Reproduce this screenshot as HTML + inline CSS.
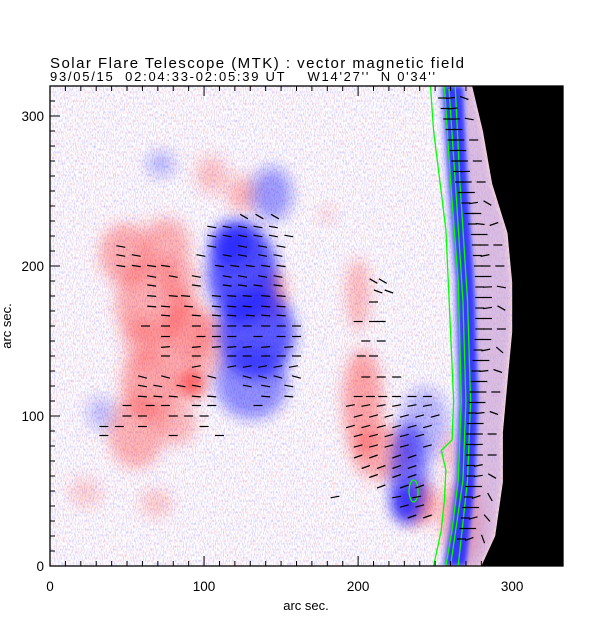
<!DOCTYPE html>
<html><head><meta charset="utf-8">
<style>
html,body{margin:0;padding:0;background:#fff;}
svg{display:block;font-family:"Liberation Sans",sans-serif;}
</style></head>
<body>
<svg id="chart" width="612" height="617" viewBox="0 0 612 617" xmlns="http://www.w3.org/2000/svg">
<defs>
  <filter id="blur6" x="-50%" y="-50%" width="200%" height="200%"><feGaussianBlur stdDeviation="7"/></filter>
  <filter id="blur3" x="-50%" y="-50%" width="200%" height="200%"><feGaussianBlur stdDeviation="2.5"/></filter>
  <filter id="noiseB" x="0" y="0" width="100%" height="100%">
    <feTurbulence type="fractalNoise" baseFrequency="0.9 0.35" numOctaves="1" seed="3"/>
    <feColorMatrix type="matrix" values="0 0 0 0 0.6  0 0 0 0 0.6  0 0 0 0 1  3.2 0 0 0 -1.45"/>
  </filter>
  <filter id="noiseR" x="0" y="0" width="100%" height="100%">
    <feTurbulence type="fractalNoise" baseFrequency="0.9 0.35" numOctaves="1" seed="11"/>
    <feColorMatrix type="matrix" values="0 0 0 0 1  0 0 0 0 0.65  0 0 0 0 0.65  3.2 0 0 0 -1.6"/>
  </filter>
  <clipPath id="plotClip"><rect x="50" y="86" width="513" height="480"/></clipPath>
</defs>
<text x="50" y="68" font-size="15" fill="#000" textLength="414" lengthAdjust="spacing">Solar Flare Telescope (MTK) : vector magnetic field</text>
<text x="50" y="81" font-size="13" fill="#000" xml:space="preserve" textLength="385" lengthAdjust="spacing">93/05/15  02:04:33-02:05:39 UT    W14'27''  N 0'34''</text>
<g id="plot" clip-path="url(#plotClip)">
  <rect x="50" y="86" width="513" height="480" fill="#fff"/>
  <rect x="50" y="86" width="513" height="480" filter="url(#noiseB)"/>
  <rect x="50" y="86" width="513" height="480" filter="url(#noiseR)"/>
  <g id="blobs"></g>
  <g id="limb"></g>
  <g id="contours"></g>
  <g id="arrows"></g>
</g>
<g id="axes"></g>
<text x="306" y="610" font-size="13" text-anchor="middle">arc sec.</text>
<text x="0" y="0" font-size="13" text-anchor="middle" transform="translate(11,326) rotate(-90)">arc sec.</text>
</svg>
<script>
// ---- data (arcsec) ----
const xTicks = [0,100,200,300];
const yTicks = [0,100,200,300];
const redX  = [49,75,66,89,92,66,56,82,105,125,144,105,200,203,216,240,69,23,180,60,85];
const redY  = [208,214,175,155,122,122,89,95,261,248,181,148,181,109,75,42,42,49,234,150,190];
const redRX = [13,12,18,12,7,15,14,10,8,8,7,9,6,10,15,9,8,8,4,10,10];
const redRY = [17,15,24,19,9,20,20,12,10,10,14,18,20,30,15,12,8,8,4,13,13];
const redI  = [0.5,0.45,0.5,0.6,1.0,0.55,0.45,0.4,0.35,0.4,0.6,0.35,0.4,0.55,0.5,0.65,0.3,0.25,0.3,0.35,0.35];
const bluX  = [125,134,131,144,72,33,233,230,243,118];
const bluY  = [195,155,122,248,268,102,62,42,95,215];
const bluRX = [17,19,18,10,7,7,9,6,12,10];
const bluRY = [28,25,20,15,7,9,28,10,20,12];
const bluI  = [0.95,0.9,0.6,0.5,0.35,0.3,0.75,0.9,0.35,0.8];
const limbY = [320,290,255,222,189,156,123,89,56,20,0];
const limbX = [274,281,287,297,300,300,297,294,294,289,280];
const contAY = [320,290,257,224,157,110,84,77,64,44,24,0];
const contAX = [247,249,253,257,260,262,261,254,257,256,254,249];
const contBY = [320,257,190,110,57,24,0];
const contBX = [256,260,265,267,265,261,257];
const contCY = [318,257,177,110,57,0];
const contCX = [259,263,268,270,268,260];
const contDY = [320,257,177,110,57,0];
const contDX = [263,266,271,273,271,265];
const loopX = 236, loopY = 50;
const arrowRowY = [233,226,220,213,207,200,193,187,180,173,167,160,153,146,140,133,126,120,113,107,100,93,87,
  190,183,176,163,150,140,126,113,107,100,93,87,80,73,66,60,53,46,40,33];
const arrowRowX = [
 [126,136,146],[105,115,125,135,145],[105,115,125,135,145,155],[46,105,125,138,150],[46,56,98,115,125,138,148],
 [46,56,66,75,110,120,130,140,150],[66,80,95,115,125,138,148],[66,95,115,125,135,148],[66,80,88,108,118,128,140,150],
 [66,75,90,108,118,128,140,150],[75,95,108,118,130,140,150],[62,75,95,108,118,128,140,150,160],[75,98,108,118,135,150,160],
 [75,95,108,118,128,140,155],[75,95,118,128,140,150,160],[95,118,128,138,148,158],[60,75,95,105,128,138,148,160],
 [60,70,85,95,128,140,155],[60,70,80,95,105,140,155],[50,65,75,95,105,135],[50,60,80,90,100],[35,45,60,100],[35,80,110],
 [210,216],[213,220],[210],[200,210,215],[205,215],[202,210],[205,215,225],[200,208,216,225,235,245],
 [195,205,215,225,235,245],[200,210,220,230,240,250],[195,205,215,225,235,245],[200,210,220,230,240],
 [200,210,220,230,245],[200,210,225,235],[205,215,225,235],[210,225,235],[215,230,240],[185,225,238],[230,240],[235,245]];
const arrowRowA = [-30,-10,-10,-10,-10,-8,-10,-8,-5,-5,-5,0,0,5,0,10,-15,-10,-5,0,0,0,0,
  -30,-20,0,0,0,0,0,0,10,15,15,15,15,20,20,20,20,10,15,20];
const limbArrowY = [312,305,298,291,284,277,270,263,256,249,242,235,228,221,214,207,200,193,186,179,172,165,158,151,144,137,130,123,116,109,102,95,88,81,74,67,60,53,46,39,32,25,18];
const limbArrowA = [20,20,10,0,0,-10,0,10,0,0,30,0,-20,0,0,40,0,0,10,0,30,0,0,0,40,0,20,0,0,0,20,0,0,10,0,40,30,0,60,0,50,0,70];
// ---- scales ----
const X0=50, X1=563, Y0=566, Y1=86, XMAX=333, YMAX=320;
const sx = v => X0 + v*(X1-X0)/XMAX;
const sy = v => Y0 - v*(Y0-Y1)/YMAX;
const NS="http://www.w3.org/2000/svg";
function mk(tag, parent){const e=document.createElementNS(NS,tag);parent.appendChild(e);return e;}
const kx=(X1-X0)/XMAX, ky=(Y0-Y1)/YMAX;
// blobs
const gB=document.getElementById('blobs');
function blob(x,y,rx,ry,i,col,name){
  const e=mk('ellipse',gB);
  
  
  e.setAttribute('cx',sx(x));e.setAttribute('cy',sy(y));
  e.setAttribute('rx',rx*kx*1.3);e.setAttribute('ry',ry*ky*1.2);
  e.setAttribute('fill',col);e.setAttribute('fill-opacity',Math.min(1,i*0.75));
  e.setAttribute('filter','url(#blur6)');
}
for(let k=0;k<redX.length;k++) blob(redX[k],redY[k],redRX[k],redRY[k],redI[k],'#ff3030','positive-field-region');
for(let k=0;k<bluX.length;k++) blob(bluX[k],bluY[k],bluRX[k],bluRY[k],bluI[k]*1.1,'#2020ff','negative-field-region');
// limb region
const gL=document.getElementById('limb');
function pathFrom(xs,ys,dx){return xs.map((v,i)=>(i?'L':'M')+sx(v+dx).toFixed(1)+' '+sy(ys[i]).toFixed(1)).join(' ');}
function revPath(xs,ys,dx){let s='';for(let i=xs.length-1;i>=0;i--) s+='L'+sx(xs[i]+dx).toFixed(1)+' '+sy(ys[i]).toFixed(1)+' ';return s;}
let p=mk('path',gL);


p.setAttribute('d',pathFrom(contBX,contBY,-4)+' '+revPath(limbX,limbY,-1)+'Z');
p.setAttribute('fill','#a8a8ff');p.setAttribute('fill-opacity','0.55');p.setAttribute('filter','url(#blur3)');
p=mk('path',gL);


p.setAttribute('d',pathFrom(contBX,contBY,-1)+' '+revPath(contDX,contDY,5)+'Z');
p.setAttribute('fill','#2a2aff');p.setAttribute('fill-opacity','0.9');p.setAttribute('filter','url(#blur3)');
blob(268,30,10,24,0.8,'#ff5050','limb-positive-region');
blob(262,75,6,12,0.45,'#ff6060','limb-positive-region');
p=mk('path',gL);


p.setAttribute('d',pathFrom(contDX,contDY,6)+' '+revPath(limbX,limbY,0)+'Z');
p.setAttribute('fill','#ff9090');p.setAttribute('fill-opacity','0.25');
p=mk('path',gL);


p.setAttribute('d',pathFrom(limbX,limbY,0)+' L'+X1+' '+Y0+' L'+X1+' '+Y1+' Z');
p.setAttribute('fill','#000');
// contours
const gC=document.getElementById('contours');
[[contAX,contAY],[contBX,contBY],[contCX,contCY],[contDX,contDY]].forEach(c=>{
  const e=mk('path',gC);
  
  
  e.setAttribute('d',pathFrom(c[0],c[1],0));e.setAttribute('fill','none');
  e.setAttribute('stroke','#00ff00');e.setAttribute('stroke-width','1.3');
});
const lp=mk('ellipse',gC);


lp.setAttribute('cx',sx(loopX));lp.setAttribute('cy',sy(loopY));lp.setAttribute('rx',4.5);lp.setAttribute('ry',11);
lp.setAttribute('fill','none');lp.setAttribute('stroke','#00ff00');lp.setAttribute('stroke-width','1.3');
// arrows
const gA=document.getElementById('arrows');
function arrow(x,y,a){
  const e=mk('line',gA);
  
  
  const r=a*Math.PI/180, L=4.5, cx=sx(x), cy=sy(y);
  e.setAttribute('x1',(cx-L*Math.cos(r)).toFixed(1));e.setAttribute('y1',(cy+L*Math.sin(r)).toFixed(1));
  e.setAttribute('x2',(cx+L*Math.cos(r)).toFixed(1));e.setAttribute('y2',(cy-L*Math.sin(r)).toFixed(1));
  e.setAttribute('stroke','#000');e.setAttribute('stroke-width','1.2');
}
arrowRowY.forEach((y,i)=>arrowRowX[i].forEach(x=>arrow(x,y,arrowRowA[i])));
limbArrowY.forEach((y,i)=>{
  let lx=0;for(let k=0;k<limbY.length-1;k++){if(y<=limbY[k]&&y>=limbY[k+1]){const t=(limbY[k]-y)/(limbY[k]-limbY[k+1]);lx=limbX[k]+t*(limbX[k+1]-limbX[k]);}}
  arrow(lx-21,y,0); arrow(lx-16,y,limbArrowA[i]*0.3); if(i%2===0) arrow(lx-7,y,-limbArrowA[i]);
});
// axes
const gX=document.getElementById('axes');
const fr=mk('rect',gX);


fr.setAttribute('x',X0);fr.setAttribute('y',Y1);fr.setAttribute('width',X1-X0);fr.setAttribute('height',Y0-Y1);
fr.setAttribute('fill','none');fr.setAttribute('stroke','#000');fr.setAttribute('stroke-width','1.3');
function tick(x1,y1,x2,y2){const e=mk('line',gX);
  
  
  e.setAttribute('x1',x1);e.setAttribute('y1',y1);e.setAttribute('x2',x2);e.setAttribute('y2',y2);e.setAttribute('stroke','#000');e.setAttribute('stroke-width','1');}
for(let v=0;v<=XMAX;v+=10){const L=v%100===0?10:5;const x=sx(v);tick(x,Y0,x,Y0-L);tick(x,Y1,x,Y1+L);}
for(let v=0;v<=YMAX;v+=10){const L=v%100===0?10:5;const y=sy(v);tick(X0,y,X0+L,y);}
xTicks.forEach(v=>{const t=mk('text',gX);
  
  
  t.setAttribute('x',sx(v));t.setAttribute('y',591);t.setAttribute('font-size','13.5');t.setAttribute('text-anchor','middle');t.textContent=v;});
yTicks.forEach(v=>{const t=mk('text',gX);
  
  
  t.setAttribute('x',44);t.setAttribute('y',sy(v)+5);t.setAttribute('font-size','13.5');t.setAttribute('text-anchor','end');t.textContent=v;});
</script>
</body></html>
